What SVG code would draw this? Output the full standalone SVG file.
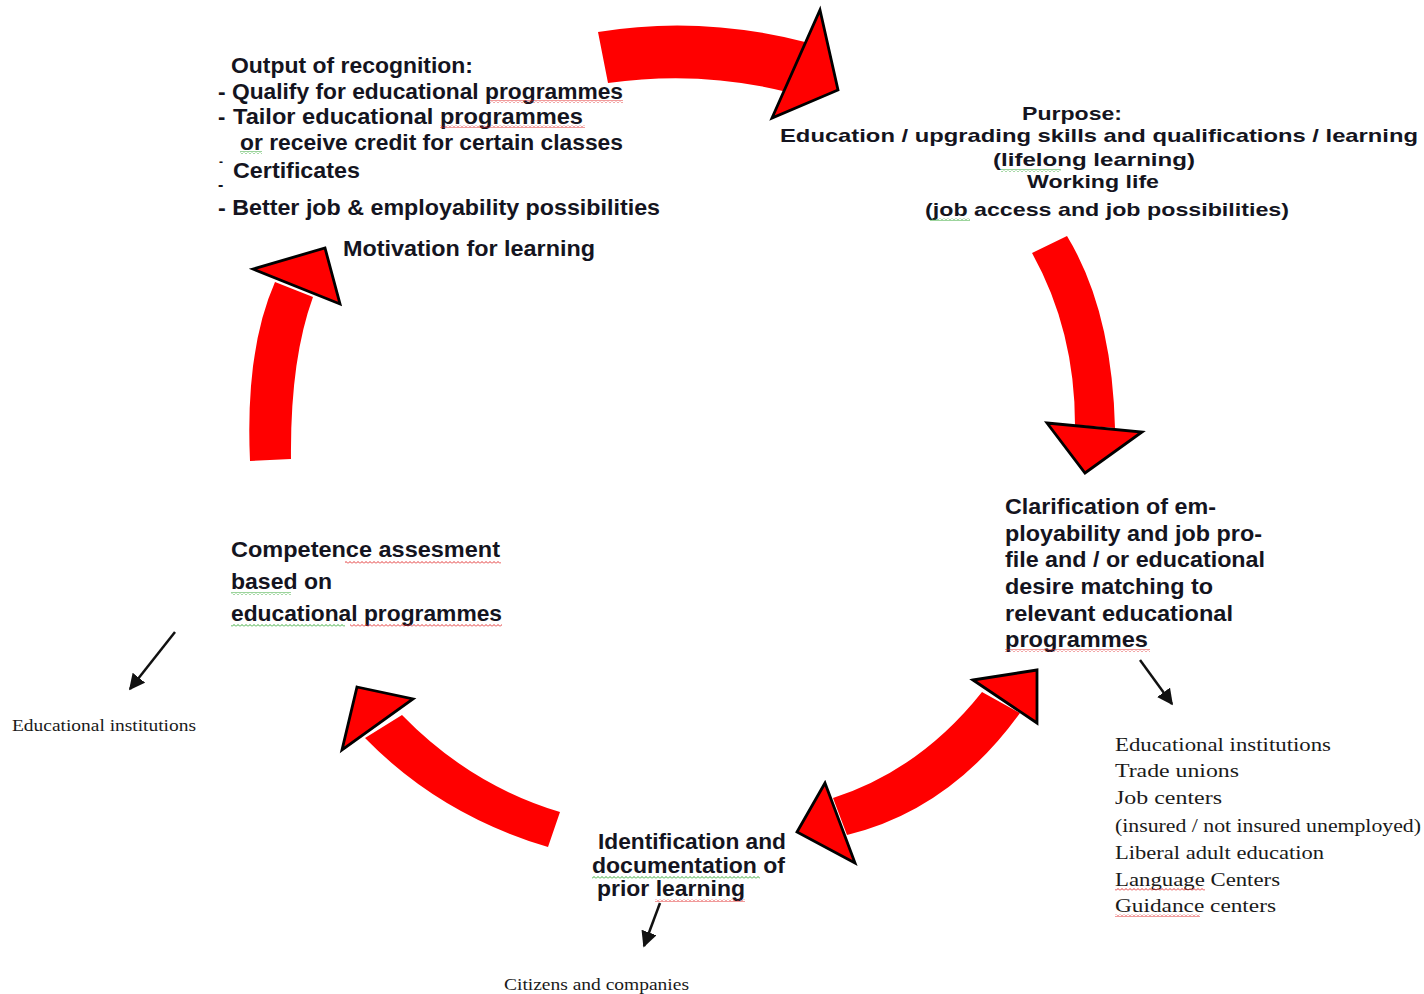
<svg xmlns="http://www.w3.org/2000/svg" width="1424" height="994" viewBox="0 0 1424 994">
<style>
.t{font-family:"Liberation Sans",Arial,sans-serif;font-weight:bold;font-size:22px;fill:#141420}
.p{font-size:19px}
.s{font-family:"Liberation Serif","Times New Roman",serif;font-size:18px;fill:#1a1a1a}
.band{fill:#ff0000;stroke:none}
.head{fill:#ff0000;stroke:#000;stroke-width:2.8;stroke-linejoin:miter}
.pt{stroke:#111;stroke-width:2.5;fill:none}
</style>
<defs>
<pattern id="zr" width="4" height="3" patternUnits="userSpaceOnUse"><path d="M0,2.5 L2,0.5 L4,2.5" fill="none" stroke="#e02020" stroke-width="0.9"/></pattern>
<pattern id="zg" width="4" height="3" patternUnits="userSpaceOnUse"><path d="M0,2.5 L2,0.5 L4,2.5" fill="none" stroke="#22a022" stroke-width="0.9"/></pattern>
<marker id="ah" viewBox="0 0 10 10" refX="9" refY="5" markerWidth="16" markerHeight="16" markerUnits="userSpaceOnUse" orient="auto"><path d="M0,0 L10,5 L0,10 Z" fill="#111"/></marker>
</defs>

<g id="connectors">
  <g id="arrow-top">
    <path class="band" d="M598,32 Q700,15 805,42 L787,92 Q700,70 608,83 Z"/>
    <polygon class="head" points="820,10 838,90 772,118"/>
  </g>
  <g id="arrow-right">
    <path class="band" d="M1032,253 Q1075,330 1075,425 L1115,428 Q1112,310 1067,236 Z"/>
    <polygon class="head" points="1047,423 1142,432 1085,473"/>
  </g>
  <g id="arrow-bottom-double">
    <path class="band" d="M833,798 Q920,770 982,692 L1020,713 Q950,810 847,835 Z"/>
    <polygon class="head" points="973,680 1037,670 1037,723"/>
    <polygon class="head" points="825,783 797,832 855,863"/>
  </g>
  <g id="arrow-bottom-left">
    <path class="band" d="M560,812 Q470,785 402,715 L365,738 Q440,815 548,847 Z"/>
    <polygon class="head" points="357,687 413,699 342,750"/>
  </g>
  <g id="arrow-left">
    <path class="band" d="M250,461 Q245,350 275,282 L313,297 Q290,360 291,459 Z"/>
    <polygon class="head" points="253,269 325,248 340,304"/>
  </g>
  <line class="pt" x1="175" y1="632" x2="130" y2="689" marker-end="url(#ah)"/>
  <line class="pt" x1="1140" y1="660" x2="1172" y2="704" marker-end="url(#ah)"/>
  <line class="pt" x1="660" y1="903" x2="644" y2="946" marker-end="url(#ah)"/>
</g>

<g id="node-output">
  <text class="t" x="231" y="73" textLength="242" lengthAdjust="spacingAndGlyphs">Output of recognition:</text>
  <text class="t" x="218" y="99" textLength="405" lengthAdjust="spacingAndGlyphs">- Qualify for educational programmes</text>
  <text class="t" x="218" y="124">-</text>
  <text class="t" x="233" y="124" textLength="350" lengthAdjust="spacingAndGlyphs">Tailor educational programmes</text>
  <text class="t" x="240" y="150" textLength="383" lengthAdjust="spacingAndGlyphs">or receive credit for certain classes</text>
  <text class="t" x="219" y="166" style="font-size:12px">-</text>
  <text class="t" x="218" y="190" style="font-size:16px">-</text>
  <text class="t" x="233" y="178" textLength="127" lengthAdjust="spacingAndGlyphs">Certificates</text>
  <text class="t" x="218" y="215" textLength="442" lengthAdjust="spacingAndGlyphs">- Better job &amp; employability possibilities</text>
  <rect x="490" y="100" width="133" height="3" fill="url(#zr)"/>
  <rect x="440" y="125" width="145" height="3" fill="url(#zr)"/>
  <rect x="240" y="151" width="22" height="3" fill="url(#zg)"/>
</g>

<g id="node-motivation">
  <text class="t" x="343" y="256" textLength="252" lengthAdjust="spacingAndGlyphs">Motivation for learning</text>
</g>

<g id="node-purpose">
  <text class="t p" x="1022" y="120" textLength="100" lengthAdjust="spacingAndGlyphs">Purpose:</text>
  <text class="t p" x="780" y="142" textLength="638" lengthAdjust="spacingAndGlyphs">Education / upgrading skills and qualifications / learning</text>
  <text class="t p" x="993" y="166" textLength="202" lengthAdjust="spacingAndGlyphs">(lifelong learning)</text>
  <text class="t p" x="1027" y="188" textLength="132" lengthAdjust="spacingAndGlyphs">Working life</text>
  <text class="t p" x="925" y="216" textLength="364" lengthAdjust="spacingAndGlyphs">(job access and job possibilities)</text>
  <rect x="1001" y="169" width="60" height="3" fill="url(#zg)"/>
  <rect x="930" y="218" width="40" height="3" fill="url(#zg)"/>
</g>

<g id="node-clarification">
  <text class="t" x="1005" y="514" textLength="211" lengthAdjust="spacingAndGlyphs">Clarification of em-</text>
  <text class="t" x="1005" y="541" textLength="257" lengthAdjust="spacingAndGlyphs">ployability and job pro-</text>
  <text class="t" x="1005" y="567" textLength="260" lengthAdjust="spacingAndGlyphs">file and / or educational</text>
  <text class="t" x="1005" y="594" textLength="208" lengthAdjust="spacingAndGlyphs">desire matching to</text>
  <text class="t" x="1005" y="621" textLength="228" lengthAdjust="spacingAndGlyphs">relevant educational</text>
  <text class="t" x="1005" y="647" textLength="143" lengthAdjust="spacingAndGlyphs">programmes</text>
  <rect x="1005" y="649" width="145" height="3" fill="url(#zr)"/>
</g>

<g id="node-competence">
  <text class="t" x="231" y="557" textLength="269" lengthAdjust="spacingAndGlyphs">Competence assesment</text>
  <text class="t" x="231" y="589" textLength="101" lengthAdjust="spacingAndGlyphs">based on</text>
  <text class="t" x="231" y="621" textLength="271" lengthAdjust="spacingAndGlyphs">educational programmes</text>
  <rect x="345" y="561" width="156" height="3" fill="url(#zr)"/>
  <rect x="231" y="592" width="60" height="3" fill="url(#zg)"/>
  <rect x="231" y="624" width="114" height="3" fill="url(#zg)"/>
  <rect x="350" y="624" width="152" height="3" fill="url(#zr)"/>
</g>

<g id="node-identification">
  <text class="t" x="598" y="849" textLength="188" lengthAdjust="spacingAndGlyphs">Identification and</text>
  <text class="t" x="592" y="873" textLength="193" lengthAdjust="spacingAndGlyphs">documentation of</text>
  <text class="t" x="597" y="896" textLength="148" lengthAdjust="spacingAndGlyphs">prior learning</text>
  <rect x="592" y="876" width="168" height="3" fill="url(#zg)"/>
  <rect x="655" y="899" width="90" height="3" fill="url(#zr)"/>
</g>

<g id="node-edu-left">
  <text class="s" x="12" y="731" textLength="184" lengthAdjust="spacingAndGlyphs" style="font-size:16px">Educational institutions</text>
</g>

<g id="node-actors-right">
  <text class="s" x="1115" y="751" textLength="216" lengthAdjust="spacingAndGlyphs">Educational institutions</text>
  <text class="s" x="1115" y="777" textLength="124" lengthAdjust="spacingAndGlyphs">Trade unions</text>
  <text class="s" x="1115" y="804" textLength="107" lengthAdjust="spacingAndGlyphs">Job centers</text>
  <text class="s" x="1115" y="832" textLength="306" lengthAdjust="spacingAndGlyphs">(insured / not insured unemployed)</text>
  <text class="s" x="1115" y="859" textLength="209" lengthAdjust="spacingAndGlyphs">Liberal adult education</text>
  <text class="s" x="1115" y="886" textLength="165" lengthAdjust="spacingAndGlyphs">Language Centers</text>
  <text class="s" x="1115" y="912" textLength="161" lengthAdjust="spacingAndGlyphs">Guidance centers</text>
  <rect x="1115" y="888" width="90" height="3" fill="url(#zr)"/>
  <rect x="1115" y="914" width="85" height="3" fill="url(#zr)"/>
</g>

<g id="node-citizens">
  <text class="s" x="504" y="990" textLength="185" lengthAdjust="spacingAndGlyphs" style="font-size:16px">Citizens and companies</text>
</g>
</svg>
